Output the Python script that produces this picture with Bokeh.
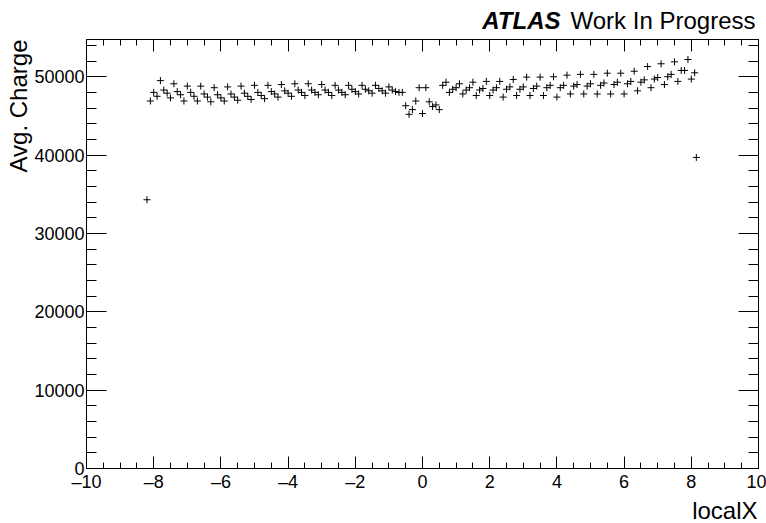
from bokeh.plotting import figure
from bokeh.layouts import column
from bokeh.models import (ColumnDataSource, Label, LinearAxis, SingleIntervalTicker, Range1d, Title)
from bokeh.embed import file_html
from bokeh.resources import INLINE

# ---------------- data ----------------
local_x = [
    -8.2, -8.1, -8.0, -7.9, -7.8, -7.7, -7.6, -7.5, -7.4, -7.3, -7.2, -7.1,
    -7.0, -6.9, -6.8, -6.7, -6.6, -6.5, -6.4, -6.3, -6.2, -6.1, -6.0, -5.9,
    -5.8, -5.7, -5.6, -5.5, -5.4, -5.3, -5.2, -5.1, -5.0, -4.9, -4.8, -4.7,
    -4.6, -4.5, -4.4, -4.3, -4.2, -4.1, -4.0, -3.9, -3.8, -3.7, -3.6, -3.5,
    -3.4, -3.3, -3.2, -3.1, -3.0, -2.9, -2.8, -2.7, -2.6, -2.5, -2.4, -2.3,
    -2.2, -2.1, -2.0, -1.9, -1.8, -1.7, -1.6, -1.5, -1.4, -1.3, -1.2, -1.1,
    -1.0, -0.9, -0.8, -0.7, -0.6,
    -0.5, -0.4, -0.3, -0.2, -0.1, 0.0, 0.1, 0.2, 0.3, 0.4, 0.5,
    0.6, 0.7, 0.8, 0.9, 1.0, 1.1, 1.2, 1.3, 1.4, 1.5, 1.6, 1.7, 1.8, 1.9,
    2.0, 2.1, 2.2, 2.3, 2.4, 2.5, 2.6, 2.7, 2.8, 2.9, 3.0, 3.1, 3.2, 3.3,
    3.4, 3.5, 3.6, 3.7, 3.8, 3.9, 4.0, 4.1, 4.2, 4.3, 4.4, 4.5, 4.6, 4.7,
    4.8, 4.9, 5.0, 5.1, 5.2, 5.3, 5.4, 5.5, 5.6, 5.7, 5.8, 5.9, 6.0, 6.1,
    6.2, 6.3, 6.4, 6.5, 6.6, 6.7, 6.8, 6.9, 7.0, 7.1, 7.2, 7.3, 7.4, 7.5,
    7.6, 7.7, 7.8, 7.9, 8.0, 8.1, 8.15,
]

avg_charge = [
    34300, 46900, 48000, 47500, 49500, 48300, 47900, 47300, 49100, 48100, 47700, 46900,
    48800, 48000, 47500, 46900, 48800, 47800, 47400, 46800, 48600, 47700, 47300, 46900,
    48700, 47800, 47400, 47000, 48800, 47900, 47500, 47100, 48900, 48000, 47600, 47200,
    48900, 48100, 47800, 47400, 49000, 48200, 47900, 47500, 49100, 48300, 48000, 47600,
    49100, 48300, 48000, 47700, 49000, 48300, 48000, 47600, 48900, 48300, 48000, 47700,
    48900, 48400, 48100, 47800, 48900, 48400, 48200, 47900, 48900, 48500, 48200, 47900,
    48700, 48300, 48100, 48000, 48000,
    46300, 45200, 45800, 46900, 48600, 45300, 48600, 46800, 46200, 46400, 45800,
    48900, 49300, 48000, 48400, 48600, 49100, 47800, 48300, 48600, 49300, 47600, 48300, 48500, 49400,
    47600, 48300, 48600, 49400, 47400, 48400, 48700, 49650, 47600, 48400, 48700, 49950, 47600, 48500,
    48800, 49950, 47600, 48600, 48900, 50000, 47400, 48600, 48900, 50200, 47800, 48800, 49000, 50300,
    47800, 48800, 49100, 50300, 47800, 48900, 49200, 50450, 47800, 49000, 49300, 50450, 47800, 49100,
    49400, 50700, 48200, 49300, 49600, 51300, 48600, 49700, 49900, 51650, 49000, 50000, 50300, 51900,
    49400, 50800, 50800, 52200, 49700, 50500, 39700,
]

x_ticks = [-10, -8, -6, -4, -2, 0, 2, 4, 6, 8, 10]
x_tick_labels = ["\u201310", "\u20138", "\u20136", "\u20134", "\u20132", "0", "2", "4", "6", "8", "10"]
y_ticks = [0, 10000, 20000, 30000, 40000, 50000]
y_tick_labels = ["0", "10000", "20000", "30000", "40000", "50000"]

x_title = "localX"
y_title = "Avg. Charge"
atlas_text = "ATLAS"
status_text = "Work In Progress"

X_MIN, X_MAX = -10, 10
Y_MIN, Y_MAX = 0, 54750

FONT = "Liberation Sans"

W = 766
HEADER_H = 38
MAIN_H = 523 - HEADER_H
BORDER_L, BORDER_R = 86, 8
FRAME_W = W - BORDER_L - BORDER_R

# ---------------- header strip (experiment label) ----------------
px_per_unit = FRAME_W / (X_MAX - X_MIN)
header = figure(
    width=W, height=HEADER_H,
    x_range=Range1d(X_MIN - BORDER_L / px_per_unit, X_MAX + BORDER_R / px_per_unit),
    y_range=Range1d(0, HEADER_H),
    output_backend="svg", toolbar_location=None,
    x_axis_location=None, y_axis_location=None,
    min_border_left=0, min_border_right=0, min_border_top=0, min_border_bottom=0,
)
header.outline_line_color = None
header.xgrid.visible = False
header.ygrid.visible = False
header.background_fill_color = "white"
header.border_fill_color = "white"
header.add_layout(Label(x=X_MAX, y=18, x_offset=4, text=status_text,
                        text_align="right", text_baseline="alphabetic",
                        text_font=FONT, text_font_size="24px", text_color="black"))
header.add_layout(Label(x=X_MAX, y=18, x_offset=-191, text=atlas_text,
                        text_align="right", text_baseline="alphabetic",
                        text_font=FONT, text_font_size="24px",
                        text_font_style="bold italic", text_color="black"))

# ---------------- main figure ----------------
p = figure(
    width=W, height=MAIN_H,
    x_range=Range1d(X_MIN, X_MAX), y_range=Range1d(Y_MIN, Y_MAX),
    output_backend="svg", toolbar_location=None,
    min_border_left=BORDER_L, min_border_right=BORDER_R, min_border_top=1, min_border_bottom=55,
)
p.background_fill_color = "white"
p.border_fill_color = "white"
p.outline_line_color = "black"
p.outline_line_width = 1
p.xgrid.visible = False
p.ygrid.visible = False


def style_axis(ax, major_in, minor_in, show_labels):
    ax.axis_line_color = "black"
    ax.axis_line_width = 1
    ax.major_tick_line_color = "black"
    ax.minor_tick_line_color = "black"
    ax.major_tick_in = major_in
    ax.major_tick_out = 0
    ax.minor_tick_in = minor_in
    ax.minor_tick_out = 0
    if show_labels:
        ax.major_label_text_font = FONT
        ax.major_label_text_font_size = "18px"
        ax.major_label_text_color = "black"
        ax.major_label_text_line_height = 1.0
    else:
        ax.major_label_text_font_size = "0px"
        ax.major_label_text_color = None
        ax.major_label_standoff = 0


xax = p.xaxis[0]
xax.ticker = SingleIntervalTicker(interval=2, num_minor_ticks=4)
xax.major_label_overrides = dict(zip(x_ticks, x_tick_labels))
xax.major_label_standoff = 3
style_axis(xax, 12, 6, True)

yax = p.yaxis[0]
yax.ticker = SingleIntervalTicker(interval=10000, num_minor_ticks=5)
yax.major_label_overrides = dict(zip(y_ticks, y_tick_labels))
yax.major_label_standoff = 2
style_axis(yax, 20, 10, True)

top_ax = LinearAxis(ticker=SingleIntervalTicker(interval=2, num_minor_ticks=4))
style_axis(top_ax, 12, 6, False)
p.add_layout(top_ax, "above")

right_ax = LinearAxis(ticker=SingleIntervalTicker(interval=10000, num_minor_ticks=5))
style_axis(right_ax, 20, 10, False)
p.add_layout(right_ax, "right")

# axis titles (right/top aligned, as in the reference)
p.add_layout(Title(text=x_title, align="right", offset=1, standoff=0,
                   vertical_align="bottom",
                   text_font=FONT, text_font_size="24px", text_font_style="normal",
                   text_color="black", text_line_height=1.0), "below")
p.add_layout(Title(text=y_title, align="right", offset=0, standoff=0,
                   vertical_align="bottom",
                   text_font=FONT, text_font_size="24px", text_font_style="normal",
                   text_color="black", text_line_height=1.0), "left")

# ---------------- data points ----------------
src = ColumnDataSource(dict(x=local_x, y=avg_charge))
p.scatter(x="x", y="y", source=src, marker="cross", size=7,
          line_color="black", line_width=1)

layout = column(header, p, spacing=0)
open("out.html", "w").write(file_html(layout, INLINE))
